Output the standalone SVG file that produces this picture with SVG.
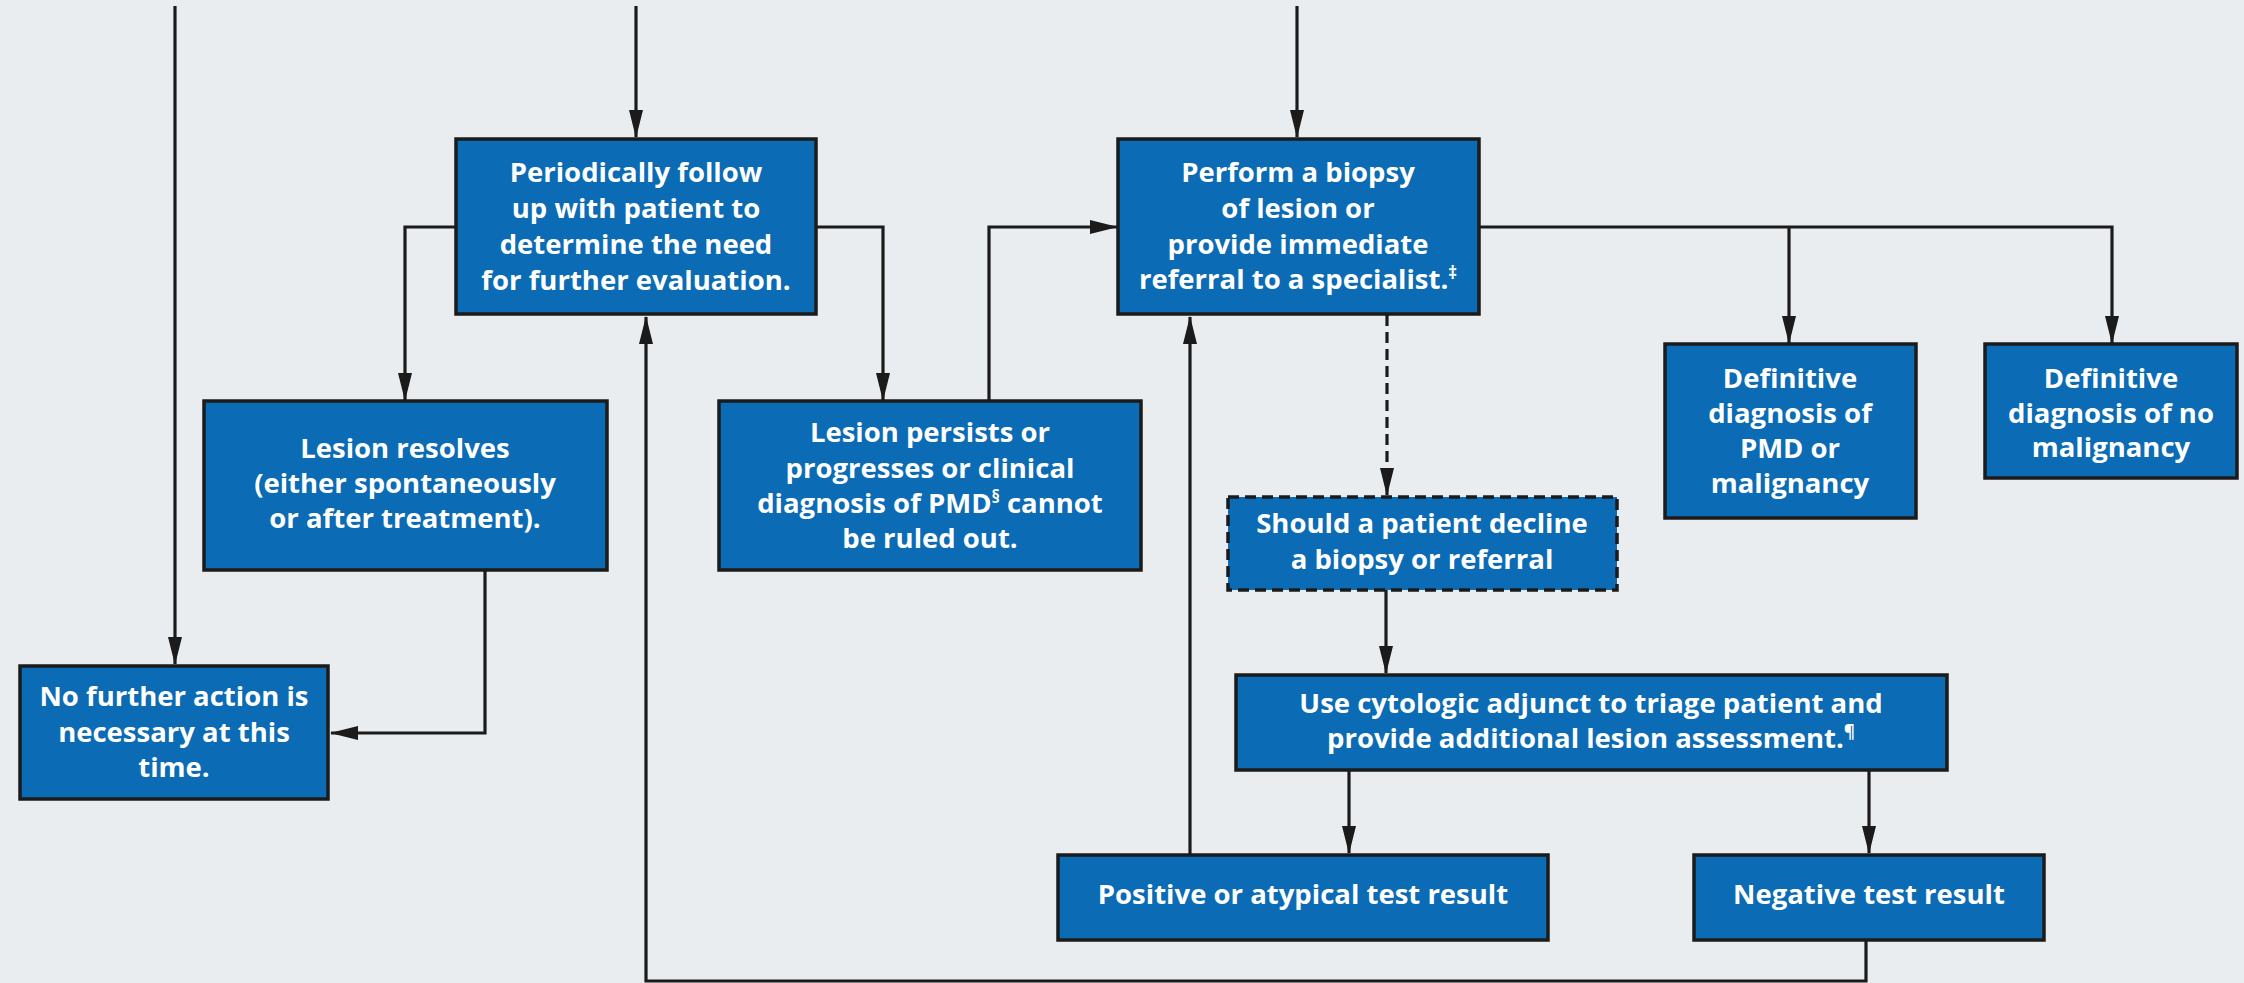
<svg xmlns="http://www.w3.org/2000/svg" width="2244" height="983" viewBox="0 0 2244 983">
<style>
.box{fill:#0b6bb4;stroke:#1b1b1b;stroke-width:3.5}
.dash{stroke-dasharray:11 6}
.t{font-family:"Open Sans","Liberation Sans",sans-serif;font-weight:700;font-size:27.5px;fill:#ffffff;text-anchor:middle}
.c{fill:none;stroke:#1b1b1b;stroke-width:3.2}
.a{marker-end:url(#ah)}
.sup{font-size:17px}
</style>
<defs>
<marker id="ah" markerUnits="userSpaceOnUse" markerWidth="28" markerHeight="14" refX="27" refY="7" orient="auto">
<path d="M0,0 L28,7 L0,14 z" fill="#1b1b1b"/>
</marker>
</defs>
<rect width="2244" height="983" fill="#e9edf0"/>
<g id="connectors">
<path class="c a" d="M175,6 V664"/>
<path class="c a" d="M636,6 V137"/>
<path class="c a" d="M1297,6 V137"/>
<path class="c a" d="M456,227 H405 V400"/>
<path class="c a" d="M816,227 H883 V400"/>
<path class="c a" d="M989,400 V227 H1117"/>
<path class="c a" d="M485,570 V733 H331"/>
<path class="c a" d="M1479,227 H2112 V343"/>
<path class="c a" d="M1789,227 V343"/>
<path class="c a dash" d="M1387,315 V495"/>
<path class="c a" d="M1386,590 V673"/>
<path class="c a" d="M1349,770 V853"/>
<path class="c a" d="M1869,770 V853"/>
<path class="c a" d="M1190,855 V317"/>
<path class="c a" d="M1866,940 V981 H646 V317"/>
</g>
<g id="periodic">
<rect class="box" x="456" y="139" width="360" height="175"/>
<text class="t"><tspan x="636" y="182">Periodically follow</tspan><tspan x="636" y="218">up with patient to</tspan><tspan x="636" y="254">determine the need</tspan><tspan x="636" y="290">for further evaluation.</tspan></text>
</g>
<g id="perform">
<rect class="box" x="1118" y="139" width="361" height="175"/>
<text class="t"><tspan x="1298" y="182">Perform a biopsy</tspan><tspan x="1298" y="218">of lesion or</tspan><tspan x="1298" y="254">provide immediate</tspan><tspan x="1298" y="289">referral to a specialist.<tspan class="sup" dy="-10">‡</tspan></tspan></text>
</g>
<g id="resolves">
<rect class="box" x="204" y="401" width="403" height="169"/>
<text class="t"><tspan x="405" y="458">Lesion resolves</tspan><tspan x="405" y="493">(either spontaneously</tspan><tspan x="405" y="528">or after treatment).</tspan></text>
</g>
<g id="persists">
<rect class="box" x="719" y="401" width="422" height="169"/>
<text class="t"><tspan x="930" y="442">Lesion persists or</tspan><tspan x="930" y="478">progresses or clinical</tspan><tspan x="930" y="513">diagnosis of PMD<tspan class="sup" dy="-10">§</tspan><tspan dy="10"> cannot</tspan></tspan><tspan x="930" y="548">be ruled out.</tspan></text>
</g>
<g id="nofurther">
<rect class="box" x="20" y="666" width="308" height="133"/>
<text class="t"><tspan x="174" y="706">No further action is</tspan><tspan x="174" y="742">necessary at this</tspan><tspan x="174" y="777">time.</tspan></text>
</g>
<g id="def-pmd">
<rect class="box" x="1665" y="344" width="251" height="174"/>
<text class="t"><tspan x="1790" y="388">Definitive</tspan><tspan x="1790" y="423">diagnosis of</tspan><tspan x="1790" y="458">PMD or</tspan><tspan x="1790" y="493">malignancy</tspan></text>
</g>
<g id="def-no">
<rect class="box" x="1985" y="344" width="252" height="134"/>
<text class="t"><tspan x="2111" y="388">Definitive</tspan><tspan x="2111" y="423">diagnosis of no</tspan><tspan x="2111" y="457">malignancy</tspan></text>
</g>
<g id="decline">
<rect class="box dash" x="1228" y="497" width="389" height="93"/>
<text class="t"><tspan x="1422" y="533">Should a patient decline</tspan><tspan x="1422" y="569">a biopsy or referral</tspan></text>
</g>
<g id="cytologic">
<rect class="box" x="1236" y="675" width="711" height="95"/>
<text class="t"><tspan x="1591" y="713">Use cytologic adjunct to triage patient and</tspan><tspan x="1591" y="748">provide additional lesion assessment.<tspan class="sup" dy="-10">¶</tspan></tspan></text>
</g>
<g id="positive">
<rect class="box" x="1058" y="855" width="490" height="85"/>
<text class="t" x="1303" y="904">Positive or atypical test result</text>
</g>
<g id="negative">
<rect class="box" x="1694" y="855" width="350" height="85"/>
<text class="t" x="1869" y="904">Negative test result</text>
</g>
</svg>
